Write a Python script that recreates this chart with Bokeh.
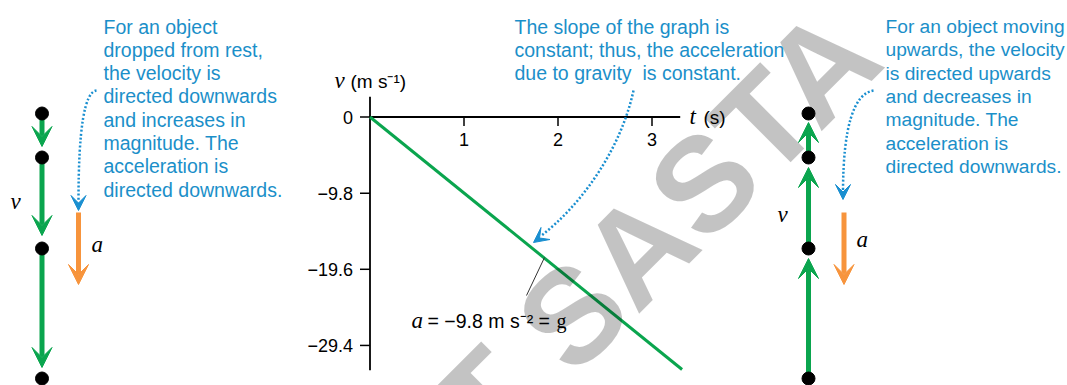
from bokeh.plotting import figure
from bokeh.models import Range1d, Arrow, VeeHead, ColumnDataSource
from bokeh.core.properties import value
from bokeh.embed import file_html
from bokeh.resources import INLINE

# ---------------- data ----------------
# v-t graph of free fall (a = -9.8 m/s^2)
t_line = [0.0, 3.32]
v_line = [0.0, -32.5]
t_ticks = [1, 2, 3]
t_tick_labels = ["1", "2", "3"]
v_ticks = [0.0, -9.8, -19.6, -29.4]
v_tick_labels = ["0", "\u22129.8", "\u221219.6", "\u221229.4"]
t_axis_extent = [0.0, 3.3]
v_axis_extent = [2.6, -32.6]

# motion diagrams (positions of the object at successive times)
dot_y = [113, 157, 248, 378]
down_start = [113, 157, 248]
down_tip = [146, 235, 367]
up_start = [378, 248, 157]
up_tip = [258, 167, 122]

left_note = ["For an object", "dropped from rest,", "the velocity is",
             "directed downwards", "and increases in", "magnitude. The",
             "acceleration is", "directed downwards."]
mid_note = ["The slope of the graph is", "constant; thus, the acceleration",
            "due to gravity\u00a0 is constant."]
right_note = ["For an object moving", "upwards, the velocity",
              "is directed upwards", "and decreases in", "magnitude. The",
              "acceleration is", "directed downwards."]

# ---------------- style ----------------
GREEN = "#0aa54e"
ORANGE = "#f7943c"
BLUE = "#1b8fc9"
BLUE_ARROW = "#1a8fd0"
SANS = value("Liberation Sans")
SERIF = value("Liberation Serif")

W, H = 1067, 385
p = figure(width=W, height=H, x_range=Range1d(0, W), y_range=Range1d(H, 0),
           output_backend="svg", toolbar_location=None, min_border=0,
           x_axis_location=None, y_axis_location=None)
p.grid.visible = False
p.outline_line_color = None
p.background_fill_color = "white"
p.border_fill_color = "white"

# graph scales mapped onto the canvas
px_per_s, t0_px = 94.0, 369.5
px_per_v, v0_px = 7.77, 116.5
p.extra_x_ranges = {"t": Range1d((0 - t0_px) / px_per_s, (W - t0_px) / px_per_s)}
p.extra_y_ranges = {"v": Range1d((v0_px - H) / px_per_v, (v0_px - 0) / px_per_v)}
G = dict(x_range_name="t", y_range_name="v")

# axes of the graph
p.line(t_axis_extent, [0, 0], line_color="black", line_width=1.8, **G)
p.line([0, 0], v_axis_extent, line_color="black", line_width=1.8, **G)
p.segment(x0=t_ticks, y0=[0] * 3, x1=t_ticks, y1=[-9 / px_per_v] * 3,
          line_color="black", line_width=1.5, **G)
p.segment(x0=[-10 / px_per_s] * 4, y0=v_ticks, x1=[0] * 4, y1=v_ticks,
          line_color="black", line_width=1.5, **G)
p.text(x=t_ticks, y=[0] * 3, text=t_tick_labels, y_offset=22, text_align="center",
       text_baseline="middle", text_font=SANS, text_font_size=value("18px"),
       text_color="black", **G)
p.text(x=[0] * 4, y=v_ticks, text=v_tick_labels, x_offset=-17, text_align="right",
       text_baseline="middle", text_font=SANS, text_font_size=value("18px"),
       text_color="black", **G)

# graph line
p.line(t_line, v_line, line_color=GREEN, line_width=3, **G)

# leader line for the slope label
p.segment(x0=[544], y0=[257], x1=[526], y1=[295], line_color="#333333", line_width=1)

# dotted callout curves
p.quadratic(x0=[96], y0=[90], x1=[78], y1=[200], cx=[78], cy=[92],
            line_color=BLUE_ARROW, line_width=2.5, line_dash="2 2")
p.bezier(x0=[633], y0=[90], x1=[541], y1=[235], cx0=[620], cy0=[150], cx1=[580], cy1=[205],
         line_color=BLUE_ARROW, line_width=2.5, line_dash="2 2")
p.quadratic(x0=[873], y0=[90], x1=[842.5], y1=[190], cx=[843], cy=[95],
            line_color=BLUE_ARROW, line_width=2.5, line_dash="2 2")
for xs, ys, xe, ye in [(78, 198, 78, 210), (545, 233, 533, 242), (842.5, 188, 842.5, 199)]:
    p.add_layout(Arrow(end=VeeHead(size=15, fill_color=BLUE_ARROW, line_color=BLUE_ARROW),
                       x_start=xs, y_start=ys, x_end=xe, y_end=ye,
                       line_alpha=0, line_width=1))

# green velocity arrows
for x, st, tp in [(41.5, down_start, down_tip), (808, up_start, up_tip)]:
    src = ColumnDataSource(dict(x0=[x] * 3, y0=st, x1=[x] * 3, y1=tp))
    p.add_layout(Arrow(end=VeeHead(size=20, fill_color=GREEN, line_color=GREEN, line_width=1),
                       x_start="x0", y_start="y0", x_end="x1", y_end="y1", source=src,
                       line_color=GREEN, line_width=5))

# orange acceleration arrows
for x in [78, 843.5]:
    p.add_layout(Arrow(end=VeeHead(size=20, fill_color=ORANGE, line_color=ORANGE, line_width=1),
                       x_start=x, y_start=212, x_end=x, y_end=284,
                       line_color=ORANGE, line_width=5))

# watermark
p.text(x=[456], y=[430], text=["T SASTA"], angle=45, angle_units="deg",
       text_align="left", text_baseline="alphabetic", text_font=SANS,
       text_font_style="bold", text_font_size=value("134px"),
       text_color="black", text_alpha=0.235, level="overlay")

# dots (positions of the object)
p.scatter(x=[41.5] * 4, y=dot_y, size=13, color="black", level="overlay")
p.scatter(x=[808] * 4, y=dot_y, size=13, color="black", level="overlay")

# callout texts
def note(lines, x0, size, y0=26, dy=23.3):
    p.text(x=[x0] * len(lines), y=[y0 + i * dy for i in range(len(lines))], text=lines,
           text_align="left", text_baseline="middle", text_font=SANS,
           text_font_size=value(size), text_color=BLUE, level="overlay")

note(left_note, 103, "19.5px")
note(mid_note, 514, "19.5px")
note(right_note, 885, "19.2px")

# italic symbol labels
p.text(x=[10, 91, 777, 856, 689, 334, 411], y=[201, 244, 214, 239, 116, 80, 320],
       text=["v", "a", "v", "a", "t", "v", "a"], text_align="left", text_baseline="middle",
       text_font=SERIF, text_font_style="italic", text_font_size=value("23px"),
       text_color="black", level="overlay")

# axis titles and slope label (upright parts)
p.text(x=[703, 350], y=[117, 81], text=["(s)", "(m s\u207b\u00b9)"],
       text_align="left", text_baseline="middle", text_font=SANS,
       text_font_size=value("19px"), text_color="black", level="overlay")
p.text(x=[427], y=[320], text=["= \u22129.8 m s\u207b\u00b2 ="],
       text_align="left", text_baseline="middle", text_font=SANS,
       text_font_size=value("19.5px"), text_color="black", level="overlay")
p.text(x=[556], y=[320], text=["g"], text_align="left", text_baseline="middle",
       text_font=SERIF, text_font_size=value("20px"), text_color="black", level="overlay")

open("out.html", "w").write(file_html(p, INLINE))
